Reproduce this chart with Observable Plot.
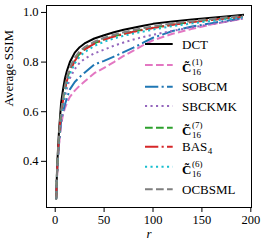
<!DOCTYPE html>
<html><head><meta charset="utf-8">
<script src="https://cdn.jsdelivr.net/npm/d3@7"></script>
<script src="https://cdn.jsdelivr.net/npm/@observablehq/plot@0.6"></script>
<style>body{margin:0;background:#fff;} #chart{width:265px;height:249px;}
svg text{font-family:"Liberation Serif","DejaVu Serif",Times,serif !important;}</style>
</head><body><div id="chart"></div>
<script>
// ----- data -----
const r = [1,2,3,4,5,6,8,10,12,15,20,25,30,40,50,60,70,80,90,100,120,140,160,180,192];
const dct    = [0.25,0.38,0.46,0.53,0.58,0.635,0.69,0.735,0.765,0.80,0.838,0.86,0.875,0.895,0.908,0.92,0.93,0.938,0.946,0.954,0.964,0.972,0.979,0.986,0.99];
const c1     = [0.25,0.35,0.42,0.47,0.51,0.545,0.59,0.615,0.635,0.66,0.685,0.705,0.722,0.755,0.777,0.80,0.825,0.846,0.868,0.888,0.914,0.934,0.952,0.966,0.975];
const sobcm  = [0.25,0.36,0.43,0.48,0.52,0.56,0.60,0.63,0.655,0.69,0.72,0.74,0.757,0.79,0.805,0.822,0.84,0.858,0.878,0.898,0.925,0.943,0.957,0.970,0.978];
const sbckmk = [0.25,0.35,0.42,0.48,0.52,0.56,0.615,0.66,0.695,0.735,0.772,0.797,0.813,0.835,0.85,0.866,0.879,0.891,0.901,0.91,0.926,0.94,0.953,0.966,0.976];
const c7     = [0.25,0.37,0.44,0.50,0.55,0.59,0.65,0.695,0.73,0.768,0.808,0.834,0.852,0.876,0.892,0.904,0.914,0.923,0.931,0.938,0.951,0.962,0.971,0.979,0.984];
const bas4   = [0.25,0.36,0.44,0.50,0.55,0.59,0.645,0.69,0.725,0.763,0.805,0.832,0.85,0.874,0.891,0.903,0.913,0.922,0.93,0.937,0.95,0.961,0.97,0.978,0.983];
const c6     = [0.25,0.36,0.43,0.49,0.54,0.58,0.635,0.68,0.715,0.752,0.795,0.822,0.84,0.865,0.882,0.895,0.906,0.915,0.923,0.931,0.945,0.956,0.966,0.975,0.981];
const ocbsml = [0.25,0.37,0.45,0.51,0.56,0.60,0.66,0.705,0.74,0.778,0.818,0.843,0.86,0.882,0.898,0.91,0.92,0.929,0.937,0.944,0.956,0.966,0.974,0.982,0.987];

const seriesKeys = ["DCT","C1","SOBCM","SBCKMK","C7","BAS4","C6","OCBSML"];
const seriesValues = [dct, c1, sobcm, sbckmk, c7, bas4, c6, ocbsml];
const xTicks = [0,50,100,150,200];
const yTicks = [0.4,0.6,0.8,1.0];

// ----- styles -----
const colors = ["#000000","#e377c2","#1f77b4","#9467bd","#2ca02c","#d62728","#17becf","#7f7f7f"];
const DASHED = "7.7,3.3", DASHDOT = "13.3,3.3,2.1,3.3", DOTTED = "2.1,3.4";
const dashes = [null, DASHED, DASHDOT, DOTTED, DASHED, DASHDOT, DOTTED, DASHED];

const rows = seriesKeys.flatMap((k, i) => r.map((rv, j) => ({series: k, r: rv, ssim: seriesValues[i][j]})));

const plot = Plot.plot({
  width: 265, height: 249,
  marginTop: 5, marginBottom: 42, marginLeft: 46, marginRight: 14,
  style: {fontFamily: "'Liberation Serif', 'DejaVu Serif', serif", fontSize: "12.5px", background: "white", color: "black"},
  x: {domain: [-8.9, 200.7]},
  y: {domain: [0.214, 1.028]},
  marks: [
    Plot.axisX({ticks: xTicks, tickSize: 5, tickPadding: 3, label: null, stroke: "black", strokeOpacity: 1}),
    Plot.axisY({ticks: yTicks, tickFormat: ".1f", tickSize: 5, tickPadding: 3, label: null, stroke: "black", strokeOpacity: 1}),
    ...seriesKeys.map((k, i) => Plot.line(rows.filter(d => d.series === k), {
      x: "r", y: "ssim", stroke: colors[i], strokeWidth: 2,
      strokeDasharray: dashes[i], strokeLinecap: dashes[i] ? "butt" : "square", strokeLinejoin: "round"
    })),
    Plot.frame({stroke: "black", strokeWidth: 1}),
    Plot.text(["Average SSIM"], {frameAnchor: "left", dx: -38, rotate: -90, fontSize: 13}),
    Plot.text(["r"], {frameAnchor: "bottom", dy: 30.5, fontSize: 13, fontStyle: "italic"})
  ]
});
document.getElementById("chart").appendChild(plot);

// ----- legend -----
const svg = d3.select(plot);
const leg = svg.append("g").attr("fill", "black").attr("text-anchor", "start");
const rowY = [44, 65, 86.7, 106, 127.7, 146.7, 166.7, 189.3];
const labels = [
  {main: "DCT"},
  {main: "C\u0303", bold: true, sup: "(1)", sub: "16"},
  {main: "SOBCM"},
  {main: "SBCKMK"},
  {main: "C\u0303", bold: true, sup: "(7)", sub: "16"},
  {main: "BAS", sub: "4"},
  {main: "C\u0303", bold: true, sup: "(6)", sub: "16"},
  {main: "OCBSML"}
];
labels.forEach((lab, i) => {
  const y = rowY[i];
  const ln = leg.append("line").attr("x1", 145).attr("x2", 172.7).attr("y1", y).attr("y2", y)
    .attr("stroke", colors[i]).attr("stroke-width", 2);
  if (dashes[i]) ln.attr("stroke-dasharray", dashes[i]);
  const tilde = !!lab.sup;
  const base = y + (tilde ? 7 : 4.5);
  const t = leg.append("text").attr("x", 182).attr("y", base).attr("font-size", 13)
    .attr("text-anchor", "start")
    .attr("font-weight", lab.bold ? "bold" : null).text(lab.main);
  const w = t.node().getComputedTextLength();
  if (lab.sup) leg.append("text").attr("x", 182 + w + 0.5).attr("y", base - 7).attr("font-size", 9).attr("text-anchor", "start").text(lab.sup);
  if (lab.sub) leg.append("text").attr("x", 182 + w + 0.5).attr("y", base + (lab.sup ? 3 : 2.5)).attr("font-size", 9).attr("text-anchor", "start").text(lab.sub);
});
</script>
</body></html>
